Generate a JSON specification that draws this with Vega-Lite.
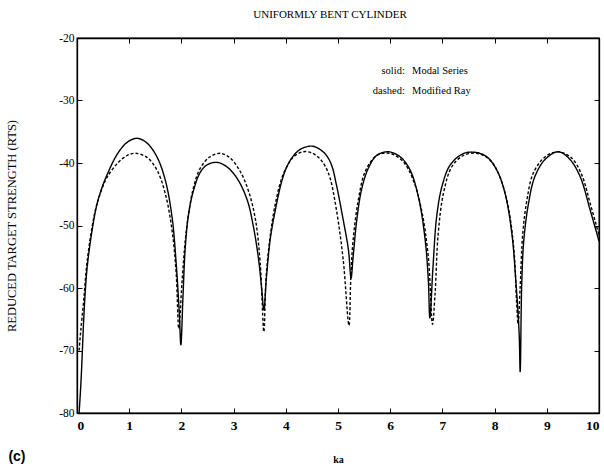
{
  "$schema": "https://vega.github.io/schema/vega-lite/v6.json",
  "width": 522,
  "height": 375,
  "autosize": "none",
  "padding": {"left": 77, "top": 38, "right": 5, "bottom": 53},
  "background": "white",
  "config": {
    "view": {"stroke": "black", "strokeWidth": 1.3},
    "font": "Liberation Serif",
    "axis": {"grid": false, "domainColor": "black", "domainWidth": 1.3, "tickColor": "black", "tickWidth": 1, "labelColor": "black", "titleColor": "black", "labelFont": "Liberation Serif", "titleFont": "Liberation Serif"}
  },
  "title": {"text": "UNIFORMLY BENT CYLINDER", "font": "Liberation Serif", "fontSize": 11, "fontWeight": "normal", "color": "black", "offset": 12, "dx": -8, "anchor": "middle"},
  "datasets": {
    "curves": [
      {"ka": 0.04, "rts": -80, "method": "Modal Series"},
      {"ka": 0.07, "rts": -76, "method": "Modal Series"},
      {"ka": 0.096, "rts": -71.5, "method": "Modal Series"},
      {"ka": 0.128, "rts": -65.1, "method": "Modal Series"},
      {"ka": 0.19, "rts": -57.1, "method": "Modal Series"},
      {"ka": 0.29, "rts": -50.7, "method": "Modal Series"},
      {"ka": 0.38, "rts": -46.7, "method": "Modal Series"},
      {"ka": 0.48, "rts": -43.9, "method": "Modal Series"},
      {"ka": 0.575, "rts": -41.9, "method": "Modal Series"},
      {"ka": 0.77, "rts": -38.6, "method": "Modal Series"},
      {"ka": 0.96, "rts": -36.7, "method": "Modal Series"},
      {"ka": 1.15, "rts": -36.05, "method": "Modal Series"},
      {"ka": 1.34, "rts": -36.8, "method": "Modal Series"},
      {"ka": 1.53, "rts": -39.0, "method": "Modal Series"},
      {"ka": 1.69, "rts": -42.7, "method": "Modal Series"},
      {"ka": 1.82, "rts": -48.6, "method": "Modal Series"},
      {"ka": 1.9, "rts": -56.05, "method": "Modal Series"},
      {"ka": 1.96, "rts": -64.1, "method": "Modal Series"},
      {"ka": 1.99, "rts": -69.1, "method": "Modal Series"},
      {"ka": 2.03, "rts": -61.4, "method": "Modal Series"},
      {"ka": 2.075, "rts": -53.4, "method": "Modal Series"},
      {"ka": 2.14, "rts": -48.05, "method": "Modal Series"},
      {"ka": 2.235, "rts": -44.3, "method": "Modal Series"},
      {"ka": 2.36, "rts": -41.5, "method": "Modal Series"},
      {"ka": 2.49, "rts": -40.3, "method": "Modal Series"},
      {"ka": 2.68, "rts": -39.9, "method": "Modal Series"},
      {"ka": 2.87, "rts": -40.6, "method": "Modal Series"},
      {"ka": 3.07, "rts": -42.5, "method": "Modal Series"},
      {"ka": 3.26, "rts": -45.9, "method": "Modal Series"},
      {"ka": 3.38, "rts": -50.2, "method": "Modal Series"},
      {"ka": 3.48, "rts": -55.5, "method": "Modal Series"},
      {"ka": 3.54, "rts": -60.3, "method": "Modal Series"},
      {"ka": 3.58, "rts": -63.5, "method": "Modal Series"},
      {"ka": 3.63, "rts": -58.2, "method": "Modal Series"},
      {"ka": 3.7, "rts": -52.3, "method": "Modal Series"},
      {"ka": 3.8, "rts": -47.5, "method": "Modal Series"},
      {"ka": 3.92, "rts": -43.0, "method": "Modal Series"},
      {"ka": 4.02, "rts": -40.6, "method": "Modal Series"},
      {"ka": 4.15, "rts": -38.8, "method": "Modal Series"},
      {"ka": 4.3, "rts": -37.7, "method": "Modal Series"},
      {"ka": 4.5, "rts": -37.3, "method": "Modal Series"},
      {"ka": 4.65, "rts": -37.8, "method": "Modal Series"},
      {"ka": 4.78, "rts": -38.8, "method": "Modal Series"},
      {"ka": 4.88, "rts": -40.4, "method": "Modal Series"},
      {"ka": 4.97, "rts": -43.5, "method": "Modal Series"},
      {"ka": 5.1, "rts": -49.1, "method": "Modal Series"},
      {"ka": 5.2, "rts": -53.9, "method": "Modal Series"},
      {"ka": 5.25, "rts": -58.4, "method": "Modal Series"},
      {"ka": 5.29, "rts": -55.0, "method": "Modal Series"},
      {"ka": 5.36, "rts": -49.1, "method": "Modal Series"},
      {"ka": 5.45, "rts": -44.3, "method": "Modal Series"},
      {"ka": 5.58, "rts": -40.85, "method": "Modal Series"},
      {"ka": 5.74, "rts": -38.8, "method": "Modal Series"},
      {"ka": 5.96, "rts": -38.2, "method": "Modal Series"},
      {"ka": 6.19, "rts": -39.0, "method": "Modal Series"},
      {"ka": 6.38, "rts": -41.1, "method": "Modal Series"},
      {"ka": 6.54, "rts": -45.4, "method": "Modal Series"},
      {"ka": 6.67, "rts": -52.3, "method": "Modal Series"},
      {"ka": 6.73, "rts": -58.7, "method": "Modal Series"},
      {"ka": 6.76, "rts": -64.8, "method": "Modal Series"},
      {"ka": 6.82, "rts": -56.6, "method": "Modal Series"},
      {"ka": 6.89, "rts": -48.6, "method": "Modal Series"},
      {"ka": 6.99, "rts": -43.8, "method": "Modal Series"},
      {"ka": 7.15, "rts": -40.3, "method": "Modal Series"},
      {"ka": 7.4, "rts": -38.5, "method": "Modal Series"},
      {"ka": 7.64, "rts": -38.3, "method": "Modal Series"},
      {"ka": 7.85, "rts": -39.0, "method": "Modal Series"},
      {"ka": 8.04, "rts": -41.1, "method": "Modal Series"},
      {"ka": 8.2, "rts": -44.85, "method": "Modal Series"},
      {"ka": 8.33, "rts": -51.25, "method": "Modal Series"},
      {"ka": 8.41, "rts": -59.25, "method": "Modal Series"},
      {"ka": 8.47, "rts": -67.25, "method": "Modal Series"},
      {"ka": 8.49, "rts": -73.4, "method": "Modal Series"},
      {"ka": 8.52, "rts": -59.25, "method": "Modal Series"},
      {"ka": 8.56, "rts": -52.3, "method": "Modal Series"},
      {"ka": 8.65, "rts": -46.45, "method": "Modal Series"},
      {"ka": 8.77, "rts": -42.2, "method": "Modal Series"},
      {"ka": 8.97, "rts": -39.4, "method": "Modal Series"},
      {"ka": 9.22, "rts": -38.2, "method": "Modal Series"},
      {"ka": 9.44, "rts": -39.4, "method": "Modal Series"},
      {"ka": 9.64, "rts": -42.2, "method": "Modal Series"},
      {"ka": 9.83, "rts": -47.5, "method": "Modal Series"},
      {"ka": 10.0, "rts": -52.5, "method": "Modal Series"},
      {"ka": 0.04, "rts": -70, "method": "Modified Ray"},
      {"ka": 0.07, "rts": -67, "method": "Modified Ray"},
      {"ka": 0.128, "rts": -62.0, "method": "Modified Ray"},
      {"ka": 0.19, "rts": -56.05, "method": "Modified Ray"},
      {"ka": 0.29, "rts": -50.2, "method": "Modified Ray"},
      {"ka": 0.38, "rts": -46.6, "method": "Modified Ray"},
      {"ka": 0.48, "rts": -44.1, "method": "Modified Ray"},
      {"ka": 0.575, "rts": -42.3, "method": "Modified Ray"},
      {"ka": 0.77, "rts": -40.1, "method": "Modified Ray"},
      {"ka": 0.96, "rts": -38.8, "method": "Modified Ray"},
      {"ka": 1.12, "rts": -38.45, "method": "Modified Ray"},
      {"ka": 1.34, "rts": -39.1, "method": "Modified Ray"},
      {"ka": 1.53, "rts": -41.1, "method": "Modified Ray"},
      {"ka": 1.69, "rts": -44.85, "method": "Modified Ray"},
      {"ka": 1.82, "rts": -50.7, "method": "Modified Ray"},
      {"ka": 1.9, "rts": -57.65, "method": "Modified Ray"},
      {"ka": 1.95, "rts": -66.5, "method": "Modified Ray"},
      {"ka": 2.01, "rts": -59.3, "method": "Modified Ray"},
      {"ka": 2.075, "rts": -52.3, "method": "Modified Ray"},
      {"ka": 2.14, "rts": -48.0, "method": "Modified Ray"},
      {"ka": 2.235, "rts": -43.8, "method": "Modified Ray"},
      {"ka": 2.36, "rts": -40.85, "method": "Modified Ray"},
      {"ka": 2.55, "rts": -39.0, "method": "Modified Ray"},
      {"ka": 2.75, "rts": -38.45, "method": "Modified Ray"},
      {"ka": 2.94, "rts": -39.25, "method": "Modified Ray"},
      {"ka": 3.13, "rts": -41.4, "method": "Modified Ray"},
      {"ka": 3.29, "rts": -44.6, "method": "Modified Ray"},
      {"ka": 3.42, "rts": -49.1, "method": "Modified Ray"},
      {"ka": 3.51, "rts": -56.05, "method": "Modified Ray"},
      {"ka": 3.58, "rts": -67.0, "method": "Modified Ray"},
      {"ka": 3.62, "rts": -58.7, "method": "Modified Ray"},
      {"ka": 3.7, "rts": -51.8, "method": "Modified Ray"},
      {"ka": 3.8, "rts": -46.5, "method": "Modified Ray"},
      {"ka": 3.92, "rts": -42.5, "method": "Modified Ray"},
      {"ka": 4.02, "rts": -40.6, "method": "Modified Ray"},
      {"ka": 4.15, "rts": -39.0, "method": "Modified Ray"},
      {"ka": 4.33, "rts": -38.2, "method": "Modified Ray"},
      {"ka": 4.5, "rts": -38.4, "method": "Modified Ray"},
      {"ka": 4.65, "rts": -39.3, "method": "Modified Ray"},
      {"ka": 4.76, "rts": -40.6, "method": "Modified Ray"},
      {"ka": 4.85, "rts": -42.45, "method": "Modified Ray"},
      {"ka": 4.97, "rts": -47.5, "method": "Modified Ray"},
      {"ka": 5.1, "rts": -55.5, "method": "Modified Ray"},
      {"ka": 5.21, "rts": -66.0, "method": "Modified Ray"},
      {"ka": 5.245, "rts": -58.5, "method": "Modified Ray"},
      {"ka": 5.29, "rts": -52.3, "method": "Modified Ray"},
      {"ka": 5.39, "rts": -45.9, "method": "Modified Ray"},
      {"ka": 5.52, "rts": -41.4, "method": "Modified Ray"},
      {"ka": 5.74, "rts": -38.8, "method": "Modified Ray"},
      {"ka": 5.99, "rts": -38.45, "method": "Modified Ray"},
      {"ka": 6.25, "rts": -39.8, "method": "Modified Ray"},
      {"ka": 6.44, "rts": -42.7, "method": "Modified Ray"},
      {"ka": 6.6, "rts": -47.5, "method": "Modified Ray"},
      {"ka": 6.73, "rts": -55.0, "method": "Modified Ray"},
      {"ka": 6.81, "rts": -65.8, "method": "Modified Ray"},
      {"ka": 6.86, "rts": -60.85, "method": "Modified Ray"},
      {"ka": 6.92, "rts": -51.25, "method": "Modified Ray"},
      {"ka": 7.02, "rts": -44.85, "method": "Modified Ray"},
      {"ka": 7.18, "rts": -40.6, "method": "Modified Ray"},
      {"ka": 7.4, "rts": -38.8, "method": "Modified Ray"},
      {"ka": 7.66, "rts": -38.45, "method": "Modified Ray"},
      {"ka": 7.91, "rts": -39.5, "method": "Modified Ray"},
      {"ka": 8.1, "rts": -42.2, "method": "Modified Ray"},
      {"ka": 8.26, "rts": -47.0, "method": "Modified Ray"},
      {"ka": 8.37, "rts": -53.9, "method": "Modified Ray"},
      {"ka": 8.42, "rts": -61.9, "method": "Modified Ray"},
      {"ka": 8.45, "rts": -65.8, "method": "Modified Ray"},
      {"ka": 8.49, "rts": -59.8, "method": "Modified Ray"},
      {"ka": 8.54, "rts": -51.25, "method": "Modified Ray"},
      {"ka": 8.62, "rts": -45.9, "method": "Modified Ray"},
      {"ka": 8.74, "rts": -41.65, "method": "Modified Ray"},
      {"ka": 8.97, "rts": -39.0, "method": "Modified Ray"},
      {"ka": 9.22, "rts": -38.2, "method": "Modified Ray"},
      {"ka": 9.48, "rts": -39.25, "method": "Modified Ray"},
      {"ka": 9.67, "rts": -41.9, "method": "Modified Ray"},
      {"ka": 9.83, "rts": -46.45, "method": "Modified Ray"},
      {"ka": 10.0, "rts": -51.5, "method": "Modified Ray"}
    ],
    "keys": [
      {"ka": 6.28, "rts": -25.2, "text": "solid:"},
      {"ka": 6.28, "rts": -28.4, "text": "dashed:"}
    ],
    "names": [
      {"ka": 6.42, "rts": -25.2, "text": "Modal Series"},
      {"ka": 6.42, "rts": -28.4, "text": "Modified Ray"}
    ],
    "panel": [
      {"ka": -1.15, "rts": -87.0, "text": "(c)"}
    ]
  },
  "layer": [
    {
      "data": {"name": "curves"},
      "mark": {"type": "line", "color": "black", "strokeWidth": 1.4, "interpolate": "catmull-rom", "clip": true},
      "encoding": {
        "x": {"field": "ka", "type": "quantitative", "scale": {"domain": [0, 10], "nice": false, "zero": false},
          "axis": {"orient": "bottom", "values": [0,1,2,3,4,5,6,7,8,9,10], "tickSize": -5, "labelPadding": 10, "labelFontSize": 13.5, "labelFontWeight": "bold", "title": "ka", "titleFontSize": 10, "titleFontWeight": "bold", "titlePadding": 23}},
        "y": {"field": "rts", "type": "quantitative", "scale": {"domain": [-80, -20], "nice": false, "zero": false},
          "axis": {"orient": "left", "values": [-80,-70,-60,-50,-40,-30,-20], "tickSize": -5, "labelPadding": 8, "labelFontSize": 11.5, "labelExpr": "'' + datum.value", "title": "REDUCED  TARGET  STRENGTH  (RTS)", "titleFontSize": 12.5, "titleFontWeight": "normal", "titlePadding": 40}},
        "strokeDash": {"field": "method", "type": "nominal", "scale": {"domain": ["Modal Series", "Modified Ray"], "range": [[1, 0], [3, 2]]}, "legend": null}
      }
    },
    {
      "data": {"name": "keys"},
      "mark": {"type": "text", "align": "right", "baseline": "middle", "font": "Liberation Serif", "fontSize": 10.5, "color": "black"},
      "encoding": {
        "x": {"field": "ka", "type": "quantitative", "scale": {"domain": [0, 10], "nice": false, "zero": false},
          "axis": {"orient": "top", "values": [0,1,2,3,4,5,6,7,8,9,10], "tickSize": -5, "labels": false, "title": null}},
        "y": {"field": "rts", "type": "quantitative", "scale": {"domain": [-80, -20], "nice": false, "zero": false},
          "axis": {"orient": "right", "values": [-80,-70,-60,-50,-40,-30,-20], "tickSize": -5, "labels": false, "title": null}},
        "text": {"field": "text", "type": "nominal"}
      }
    },
    {
      "data": {"name": "names"},
      "mark": {"type": "text", "align": "left", "baseline": "middle", "font": "Liberation Serif", "fontSize": 10.5, "color": "black"},
      "encoding": {
        "x": {"field": "ka", "type": "quantitative", "scale": {"domain": [0, 10], "nice": false, "zero": false}, "axis": null},
        "y": {"field": "rts", "type": "quantitative", "scale": {"domain": [-80, -20], "nice": false, "zero": false}, "axis": null},
        "text": {"field": "text", "type": "nominal"}
      }
    },
    {
      "data": {"name": "panel"},
      "mark": {"type": "text", "align": "center", "baseline": "middle", "font": "Liberation Sans", "fontSize": 14, "fontWeight": "bold", "color": "black"},
      "encoding": {
        "x": {"field": "ka", "type": "quantitative", "scale": {"domain": [0, 10], "nice": false, "zero": false}, "axis": null},
        "y": {"field": "rts", "type": "quantitative", "scale": {"domain": [-80, -20], "nice": false, "zero": false}, "axis": null},
        "text": {"field": "text", "type": "nominal"}
      }
    }
  ],
  "resolve": {"axis": {"x": "independent", "y": "independent"}}
}
